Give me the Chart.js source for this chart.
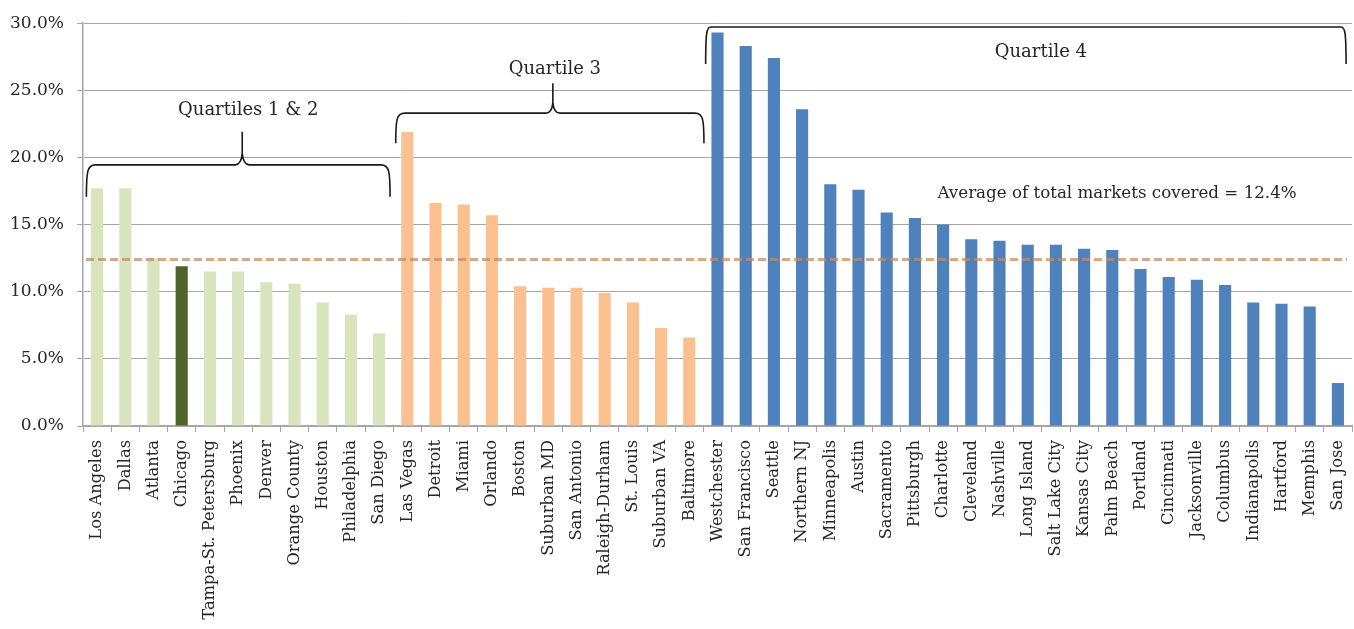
<!DOCTYPE html>
<html>
<head>
<meta charset="utf-8">
<script src="https://cdn.jsdelivr.net/npm/chart.js@4.4.1/dist/chart.umd.min.js"></script>
<style>
  html, body { margin: 0; padding: 0; background: #ffffff; }
  canvas { display: block; }
</style>
</head>
<body>
<canvas id="chart" width="1354" height="629"></canvas>
<script>
// Share of each market covered, in percent, sorted within quartile groups
const markets = [
  'Los Angeles', 'Dallas', 'Atlanta', 'Chicago', 'Tampa-St. Petersburg', 'Phoenix',
  'Denver', 'Orange County', 'Houston', 'Philadelphia', 'San Diego',
  'Las Vegas', 'Detroit', 'Miami', 'Orlando', 'Boston', 'Suburban MD', 'San Antonio',
  'Raleigh-Durham', 'St. Louis', 'Suburban VA', 'Baltimore',
  'Westchester', 'San Francisco', 'Seattle', 'Northern NJ', 'Minneapolis', 'Austin',
  'Sacramento', 'Pittsburgh', 'Charlotte', 'Cleveland', 'Nashville', 'Long Island',
  'Salt Lake City', 'Kansas City', 'Palm Beach', 'Portland', 'Cincinnati',
  'Jacksonville', 'Columbus', 'Indianapolis', 'Hartford', 'Memphis', 'San Jose'
];

const coverage = [
  17.7, 17.7, 12.5, 11.9, 11.5, 11.5, 10.7, 10.6, 9.2, 8.3, 6.9,
  21.9, 16.6, 16.5, 15.7, 10.4, 10.3, 10.3, 9.9, 9.2, 7.3, 6.6,
  29.3, 28.3, 27.4, 23.6, 18.0, 17.6, 15.9, 15.5, 15.0, 13.9, 13.8, 13.5,
  13.5, 13.2, 13.1, 11.7, 11.1, 10.9, 10.5, 9.2, 9.1, 8.9, 3.2
];

const quartileLabels = ['Quartiles 1 & 2', 'Quartile 3', 'Quartile 4'];
const quartileFirst = [0, 11, 22];
const quartileLast = [10, 21, 44];

const highlightMarket = 'Chicago';
const averageCoverage = 12.4;
const averageLabel = 'Average of total markets covered = 12.4%';

const yTickValues = [0, 5, 10, 15, 20, 25, 30];

// Styling
const groupColors = ['#D7E4BD', '#FAC090', '#4F81BD'];
const highlightColor = '#4F6228';
const gridColor = '#A6A6A6';
const textColor = '#262626';
const serif = '"DejaVu Serif", "Liberation Serif", serif';

// Brace geometry per group (x padding in category widths, line level in %, sizes in px)
const braceLayout = [
  { padL: 0.38, padR: 0.39, level: 19.45, drop: 32, peak: 33, peakDx: 4, labelDx: 10, labelDy: -50, r: 9 },
  { padL: 0.41, padR: 0.52, level: 23.3, drop: 30, peak: 30, peakDx: 3, labelDx: 5, labelDy: -39, r: 9 },
  { padL: 0.42, padR: 0.29, level: 29.72, drop: 37, peak: 0, peakDx: 0, labelDx: 15, labelDy: 30, r: 5 }
];

function groupOf(i) {
  for (let g = 0; g < quartileFirst.length; g++) {
    if (i >= quartileFirst[g] && i <= quartileLast[g]) return g;
  }
  return 0;
}

const barColors = markets.map((m, i) => m === highlightMarket ? highlightColor : groupColors[groupOf(i)]);

function drawBrace(ctx, x1, x2, y, drop, peak, peakX, r) {
  ctx.beginPath();
  ctx.moveTo(x1, y + drop);
  ctx.bezierCurveTo(x1, y + 6, x1 + 1, y, x1 + r, y);
  if (peak > 0) {
    ctx.lineTo(peakX - 7, y);
    ctx.quadraticCurveTo(peakX - 1, y, peakX, y - peak * 0.35);
    ctx.lineTo(peakX, y - peak);
    ctx.moveTo(peakX, y - peak * 0.35);
    ctx.quadraticCurveTo(peakX + 1, y, peakX + 7, y);
  }
  ctx.lineTo(x2 - r, y);
  ctx.bezierCurveTo(x2 - 1, y, x2, y + 6, x2, y + drop);
  ctx.stroke();
}

const annotationsPlugin = {
  id: 'annotations',
  afterDatasetsDraw(chart) {
    const ctx = chart.ctx;
    const xs = chart.scales.x;
    const ys = chart.scales.y;
    const area = chart.chartArea;
    const cw = xs.getPixelForValue(1) - xs.getPixelForValue(0);

    // Average line
    const ya = ys.getPixelForValue(averageCoverage);
    ctx.save();
    ctx.strokeStyle = 'rgba(196, 140, 96, 0.75)';
    ctx.lineWidth = 3;
    ctx.setLineDash([8, 4]);
    ctx.beginPath();
    ctx.moveTo(area.left + 3, ya);
    ctx.lineTo(area.right - 5, ya);
    ctx.stroke();
    ctx.restore();

    // Quartile braces and labels
    ctx.save();
    ctx.strokeStyle = '#1a1a1a';
    ctx.lineWidth = 1.6;
    ctx.fillStyle = textColor;
    ctx.font = '18px ' + serif;
    ctx.textAlign = 'center';
    ctx.textBaseline = 'alphabetic';
    quartileLabels.forEach((label, g) => {
      const L = braceLayout[g];
      const x1 = xs.getPixelForValue(quartileFirst[g]) - L.padL * cw;
      const x2 = xs.getPixelForValue(quartileLast[g]) + L.padR * cw;
      const y = ys.getPixelForValue(L.level);
      const mid = (x1 + x2) / 2;
      drawBrace(ctx, x1, x2, y, L.drop, L.peak, mid + L.peakDx, L.r);
      ctx.fillText(label, mid + L.labelDx, y + L.labelDy);
    });
    ctx.restore();

    // Average label
    ctx.save();
    ctx.fillStyle = textColor;
    ctx.font = '16.7px ' + serif;
    ctx.textAlign = 'left';
    ctx.textBaseline = 'alphabetic';
    ctx.fillText(averageLabel, xs.getPixelForValue(29) + 0.8 * cw, ya - 62);
    ctx.restore();
  }
};

new Chart(document.getElementById('chart'), {
  type: 'bar',
  data: {
    labels: markets,
    datasets: [{
      data: coverage,
      backgroundColor: barColors,
      borderWidth: 0,
      categoryPercentage: 1.0,
      barPercentage: 0.43
    }]
  },
  options: {
    responsive: false,
    devicePixelRatio: 1,
    animation: false,
    layout: { padding: { left: 4, right: 2, top: 14, bottom: 0 } },
    plugins: {
      legend: { display: false },
      tooltip: { enabled: false }
    },
    scales: {
      x: {
        grid: {
          display: true,
          drawOnChartArea: false,
          drawTicks: true,
          tickLength: 6,
          color: gridColor,
          offset: true
        },
        border: { display: true, color: gridColor, width: 2 },
        ticks: {
          autoSkip: false,
          maxRotation: 90,
          minRotation: 90,
          padding: 8,
          color: textColor,
          font: { family: serif, size: 16.3 }
        },
        afterFit(scale) {
          scale.height = 203;
          scale.paddingLeft = 0;
          scale.paddingRight = 0;
        }
      },
      y: {
        min: 0,
        max: 30,
        afterBuildTicks(scale) {
          scale.ticks = yTickValues.map(v => ({ value: v }));
        },
        grid: {
          color: gridColor,
          lineWidth: 1,
          drawTicks: true,
          tickLength: 6
        },
        border: { display: true, color: gridColor, width: 1.5 },
        ticks: {
          padding: 13,
          color: textColor,
          font: { family: serif, size: 17 },
          callback: v => v.toFixed(1) + '%'
        },
        afterFit(scale) { scale.width = 79; }
      }
    }
  },
  plugins: [annotationsPlugin]
});
</script>
</body>
</html>
